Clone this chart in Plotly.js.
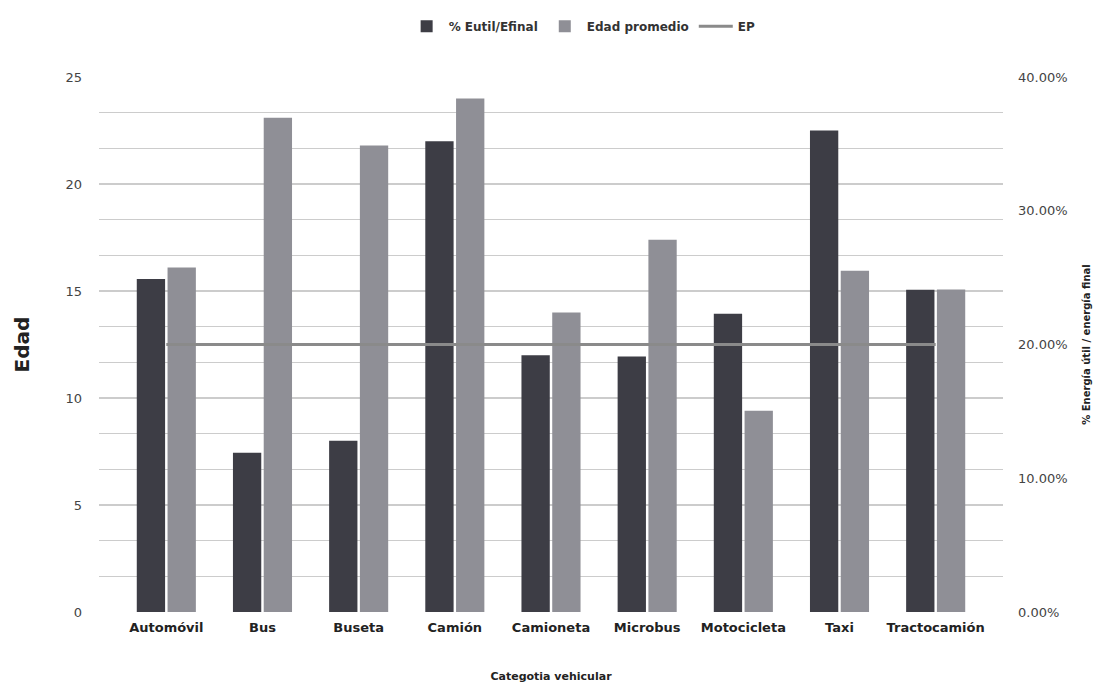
<!DOCTYPE html>
<html>
<head>
<meta charset="utf-8">
<script src="https://cdn.plot.ly/plotly-3.0.1.min.js"></script>
<style>html,body{margin:0;padding:0;background:#fff}#chart{width:1106px;height:686px}</style>
</head>
<body>
<div id="chart"></div>
<script>
const categories = ["Automóvil","Bus","Buseta","Camión","Camioneta","Microbus","Motocicleta","Taxi","Tractocamión"];
const eutilEfinal = [0.249, 0.119, 0.128, 0.352, 0.192, 0.191, 0.223, 0.360, 0.241];
const edadPromedio = [16.1, 23.1, 21.8, 24.0, 14.0, 17.4, 9.4, 15.95, 15.07];
const ep = [0.20, 0.20, 0.20, 0.20, 0.20, 0.20, 0.20, 0.20, 0.20];

const fontFam = "DejaVu Sans, Open Sans, sans-serif";

const traces = [
  {
    type: "bar", name: "% Eutil/Efinal", x: categories, y: eutilEfinal,
    yaxis: "y2", offsetgroup: "a", alignmentgroup: "g",
    marker: {color: "#3d3d45"}
  },
  {
    type: "bar", name: "Edad promedio", x: categories, y: edadPromedio,
    yaxis: "y", offsetgroup: "b", alignmentgroup: "g",
    marker: {color: "#8f8f96"}
  },
  {
    type: "scatter", mode: "lines", name: "EP", x: categories, y: ep,
    yaxis: "y2", line: {color: "#8a8a8a", width: 3}
  }
];

const layout = {
  width: 1106, height: 686,
  margin: {l: 99, r: 103, t: 73, b: 74},
  paper_bgcolor: "#fff", plot_bgcolor: "#fff",
  font: {family: fontFam, color: "#333"},
  barmode: "group", bargap: 0.36, bargroupgap: 0.08,
  showlegend: true,
  legend: {
    orientation: "h", x: 0.535, xanchor: "center", y: 1.095, yanchor: "middle",
    font: {size: 12, color: "#333", weight: "bold"}, traceorder: "normal",
    itemwidth: 34
  },
  xaxis: {
    type: "category", range: [-0.7, 8.7],
    showgrid: false, zeroline: false, showline: false, ticks: "",
    ticklabelstandoff: 6,
    tickfont: {size: 13, color: "#222", weight: "bold"},
    title: {text: "Categotia vehicular", font: {size: 11, color: "#222", weight: "bold"}, standoff: 38}
  },
  yaxis: {
    range: [0, 25], dtick: 5, tick0: 0,
    showgrid: true, gridcolor: "#cccccc", gridwidth: 1.5,
    minor: {dtick: 5/3, tick0: 0, showgrid: true, gridcolor: "#cccccc", gridwidth: 1.5},
    zeroline: false, showline: false, ticks: "",
    ticklabelstandoff: 16,
    tickfont: {size: 13, color: "#444"},
    title: {text: "Edad", font: {size: 20, color: "#222", weight: "bold"}, standoff: 30}
  },
  yaxis2: {
    overlaying: "y", side: "right", range: [0, 0.4], dtick: 0.1,
    tickformat: ".2%", showgrid: false, zeroline: false, showline: false, ticks: "",
    ticklabelstandoff: 14,
    tickfont: {size: 13, color: "#444"},
    title: {text: "% Energía útil / energía final", font: {size: 10, color: "#222", weight: "bold"}, standoff: 16}
  }
};

Plotly.newPlot("chart", traces, layout, {displayModeBar: false, staticPlot: true});
</script>
</body>
</html>
